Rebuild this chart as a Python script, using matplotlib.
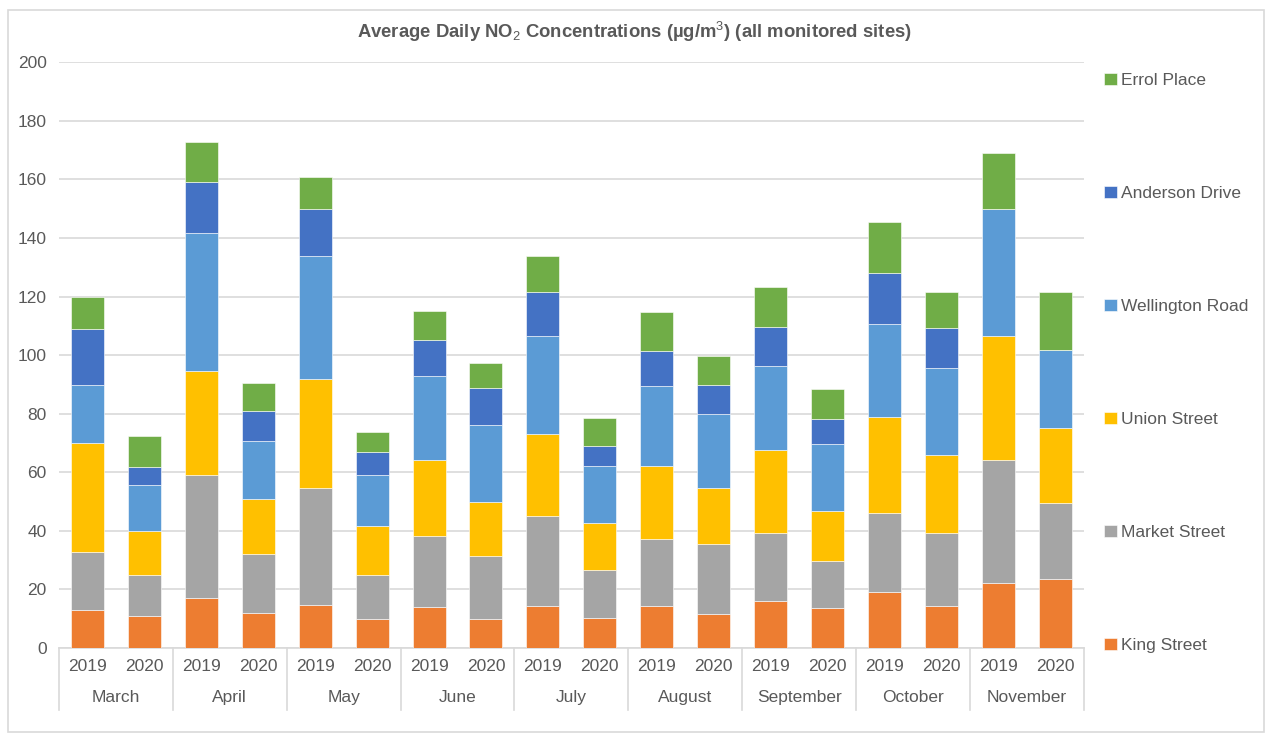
import numpy as np
import matplotlib.pyplot as plt
from matplotlib.patches import Rectangle

plt.rcParams['font.family'] = ['Liberation Sans', 'DejaVu Sans']
plt.rcParams['mathtext.fontset'] = 'custom'
plt.rcParams['mathtext.rm'] = 'Liberation Sans'
plt.rcParams['mathtext.bf'] = 'Liberation Sans:bold'

# Average daily NO2 per site, March-November, 2019 vs 2020
months = ["March", "April", "May", "June", "July", "August",
          "September", "October", "November"]
years = ["2019", "2020"]

king = [12.9, 11.0, 16.9, 12.1, 14.8, 9.9, 14.1, 9.9, 14.5, 10.2,
        14.5, 11.7, 16.1, 13.7, 19.2, 14.5, 22.3, 23.5]
market = [20.0, 14.0, 42.1, 20.0, 39.9, 15.1, 24.3, 21.4, 30.4, 16.3,
          22.6, 23.9, 23.3, 16.0, 26.9, 24.9, 41.8, 26.0]
union = [37.0, 14.9, 35.5, 18.7, 37.1, 16.8, 25.7, 18.7, 28.2, 16.1,
         25.0, 19.1, 28.1, 17.1, 32.8, 26.6, 42.5, 25.5]
wellington = [20.0, 15.9, 47.3, 19.9, 42.1, 17.1, 28.9, 26.1, 33.3, 19.5,
              27.3, 25.3, 28.9, 22.7, 31.9, 29.6, 43.3, 26.7]
anderson = [18.9, 6.0, 17.2, 10.2, 16.0, 8.0, 12.2, 12.6, 15.3, 7.0,
            12.0, 9.9, 13.2, 8.6, 17.1, 13.5, 0.0, 0.0]
errol = [11.0, 10.7, 13.7, 9.6, 11.0, 7.0, 9.8, 8.5, 12.1, 9.4,
         13.2, 9.9, 13.6, 10.4, 17.7, 12.5, 19.2, 19.9]

series = [
    ("King Street", king, "#ED7D31"),
    ("Market Street", market, "#A5A5A5"),
    ("Union Street", union, "#FFC000"),
    ("Wellington Road", wellington, "#5B9BD5"),
    ("Anderson Drive", anderson, "#4472C4"),
    ("Errol Place", errol, "#70AD47"),
]

text_col = "#595959"
grid_col = "#D9D9D9"

fig = plt.figure(figsize=(12.69, 7.33), dpi=100)
ax = fig.add_axes([0.0465, 0.116, 0.8075, 0.799])

x = np.arange(len(king))
bottom = np.zeros(len(x))
handles = []
for name, vals, col in series:
    vals = np.array(vals)
    b = ax.bar(x, vals, 0.58, bottom=bottom, color=col, label=name,
               edgecolor="white", linewidth=0.4, zorder=3)
    handles.append(b)
    bottom += vals

ax.set_ylim(0, 200)
ax.set_xlim(-0.5, len(x) - 0.5)
ax.set_yticks(np.arange(0, 201, 20))
ax.yaxis.grid(True, color=grid_col, linewidth=1.2, zorder=0)
for s in ["top", "right", "left"]:
    ax.spines[s].set_visible(False)
ax.spines["bottom"].set_color(grid_col)
ax.spines["bottom"].set_linewidth(1.2)
ax.tick_params(axis="y", length=0, labelsize=12.5, labelcolor=text_col, pad=9)
ax.tick_params(axis="x", length=0, labelsize=12.5, labelcolor=text_col, pad=8)
ax.set_xticks(x)
ax.set_xticklabels(years * len(months))

# month labels and group separators below the axis
trans = ax.get_xaxis_transform()
for i, m in enumerate(months):
    ax.text(2 * i + 0.5, -0.084, m, transform=trans, ha="center", va="center",
            fontsize=12.5, color=text_col)
for i in range(len(months) + 1):
    ax.plot([2 * i - 0.5, 2 * i - 0.5], [0, -0.106], transform=trans,
            color=grid_col, linewidth=1.2, clip_on=False)

fig.text(0.5, 0.957, "Average Daily NO$_2$ Concentrations (\u00b5g/m$^3$) (all monitored sites)",
         ha="center", va="center", fontsize=13.3, fontweight="bold", color=text_col)

leg = ax.legend(handles[::-1], [s[0] for s in series][::-1],
                loc="upper left", bbox_to_anchor=(1.005, 1.008),
                frameon=False, fontsize=12.5, labelspacing=5.63,
                handlelength=0.7, handleheight=0.7, handletextpad=0.25)
for t in leg.get_texts():
    t.set_color(text_col)

fig.patches.append(Rectangle((0.0063, 0.0014), 0.99, 0.985, transform=fig.transFigure,
                             fill=False, edgecolor=grid_col, linewidth=1.2))

fig.savefig("out.png", dpi=100)
